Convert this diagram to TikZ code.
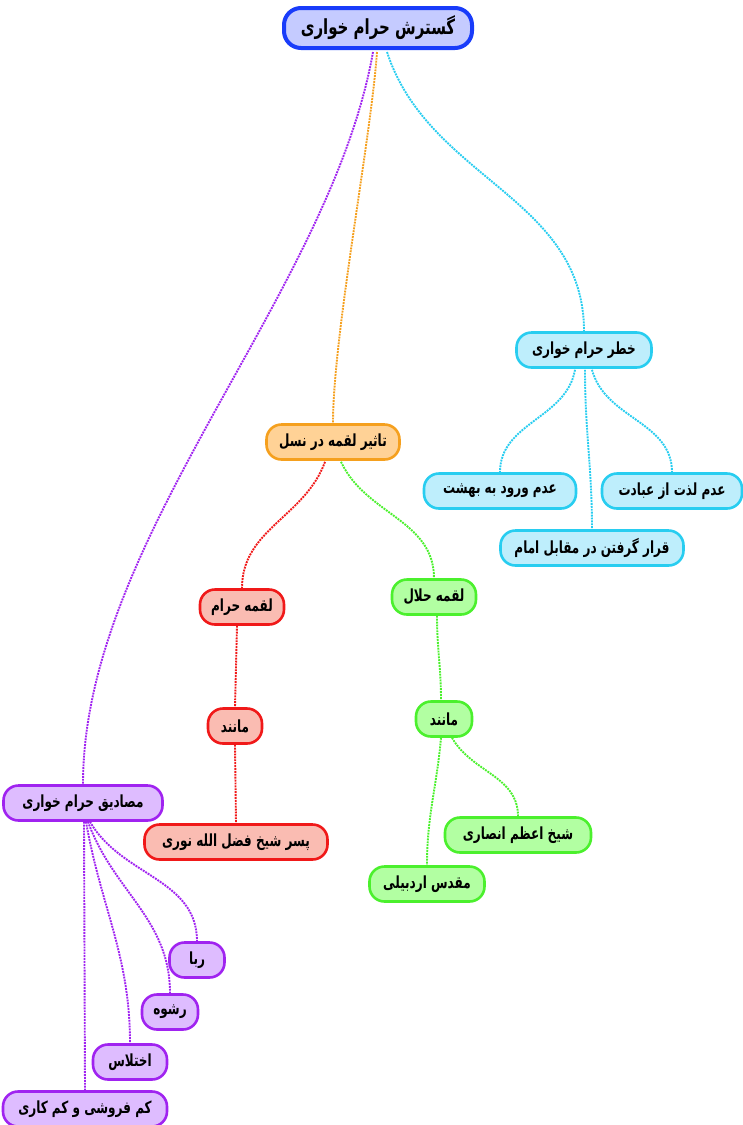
\documentclass[tikz,border=0pt]{standalone}
\usepackage{fontspec}
\TeXXeTstate=1
\newfontfamily\arabicfont[Script=Arabic, FakeStretch=0.72]{DejaVu Sans}
\usetikzlibrary{calc}
\definecolor{blueB}{RGB}{25,60,250}\definecolor{blueF}{RGB}{197,203,255}
\definecolor{cyanB}{RGB}{40,205,240}\definecolor{cyanF}{RGB}{190,238,252}
\definecolor{orB}{RGB}{245,160,30}\definecolor{orF}{RGB}{255,210,150}
\definecolor{redB}{RGB}{240,25,25}\definecolor{redF}{RGB}{250,188,178}
\definecolor{grB}{RGB}{75,240,45}\definecolor{grF}{RGB}{178,255,162}
\definecolor{puB}{RGB}{160,35,240}\definecolor{puF}{RGB}{222,188,255}
\tikzset{
  box/.style={rectangle, rounded corners=15pt, line width=2.6pt, minimum height=35pt, inner sep=2pt, font=\arabicfont\bfseries\fontsize{16.7}{18}\selectfont, text=black},
  rootbox/.style={box, draw=blueB, fill=blueF, line width=4pt, rounded corners=17pt, minimum height=40pt, font=\arabicfont\bfseries\fontsize{20.8}{22}\selectfont},
  cy/.style={box, draw=cyanB, fill=cyanF},
  orb/.style={box, draw=orB, fill=orF},
  rdb/.style={box, draw=redB, fill=redF},
  grb/.style={box, draw=grB, fill=grF},
  pub/.style={box, draw=puB, fill=puF},
  link/.style={densely dotted, line width=1.9pt},
}
\begin{document}
\begin{tikzpicture}[x=1pt,y=1pt]
\useasboundingbox (0,0) rectangle (743,-1125);
\node[rootbox, minimum width=188pt] (root) at (378,-28) {\beginR گسترش حرام خواری\endR};
\node[cy, minimum width=135pt] (khatar) at (584,-350) {\beginR خطر حرام خواری\endR};
\node[cy, minimum width=152pt] (vorud) at (500,-491) {\beginR عدم ورود به بهشت\endR};
\node[cy, minimum width=140pt] (lezat) at (672,-491) {\beginR عدم لذت از عبادت\endR};
\node[cy, minimum width=183pt] (gharar) at (592,-548) {\beginR قرار گرفتن در مقابل امام\endR};
\node[orb, minimum width=133pt] (tasir) at (333,-442) {\beginR تاثیر لقمه در نسل\endR};
\node[rdb, minimum width=84pt] (haram) at (242,-607) {\beginR لقمه حرام\endR};
\node[rdb, minimum width=54pt] (manR) at (235,-726) {\beginR مانند\endR};
\node[rdb, minimum width=183pt] (pesar) at (236,-842) {\beginR پسر شیخ فضل الله نوری\endR};
\node[grb, minimum width=84pt] (halal) at (434,-597) {\beginR لقمه حلال\endR};
\node[grb, minimum width=56pt] (manG) at (444,-719) {\beginR مانند\endR};
\node[grb, minimum width=146pt] (sheikh) at (518,-835) {\beginR شیخ اعظم انصاری\endR};
\node[grb, minimum width=115pt] (moghad) at (427,-884) {\beginR مقدس اردبیلی\endR};
\node[pub, minimum width=159pt] (masad) at (83,-803) {\beginR مصادیق حرام خواری\endR};
\node[pub, minimum width=55pt] (reba) at (197,-960) {\beginR ربا\endR};
\node[pub, minimum width=56pt] (reshve) at (170,-1012) {\beginR رشوه\endR};
\node[pub, minimum width=74pt] (ekht) at (130,-1062) {\beginR اختلاس\endR};
\node[pub, minimum width=164pt] (kam) at (85,-1109) {\beginR کم فروشی و کم کاری\endR};
% links from root
\draw[link, cyanB] ([xshift=9pt,yshift=-2pt]root.south) to[out=-72,in=90,looseness=1.0] (khatar.north);
\draw[link, orB] ([xshift=-1pt,yshift=-2pt]root.south) to[out=-94,in=90,looseness=0.6] (tasir.north);
\draw[link, puB] ([xshift=-5pt,yshift=-2pt]root.south) to[out=-100,in=90,looseness=0.8] (masad.north);
% khatar children
\draw[link, cyanB] ([xshift=-9pt,yshift=-1pt]khatar.south) to[out=-100,in=90] (vorud.north);
\draw[link, cyanB] ([xshift=8pt,yshift=-1pt]khatar.south) to[out=-75,in=90] (lezat.north);
\draw[link, cyanB] ([xshift=1pt,yshift=-1pt]khatar.south) to[out=-90,in=90] (gharar.north);
% tasir
\draw[link, redB] ([xshift=-8pt,yshift=-1pt]tasir.south) to[out=-110,in=90] (haram.north);
\draw[link, grB] ([xshift=8pt,yshift=-1pt]tasir.south) to[out=-65,in=90] (halal.north);
\draw[link, redB] ([xshift=-5pt]haram.south) -- (manR.north);
\draw[link, redB] (manR.south) -- (pesar.north);
\draw[link, grB] ([xshift=3pt]halal.south) to[out=-90,in=90] ([xshift=-3pt]manG.north);
\draw[link, grB] ([xshift=-3pt]manG.south) to[out=-95,in=90] (moghad.north);
\draw[link, grB] ([xshift=8pt]manG.south) to[out=-60,in=90] (sheikh.north);
% masadigh
\draw[link, puB] ([xshift=7pt]masad.south) to[out=-60,in=90] (reba.north);
\draw[link, puB] ([xshift=5pt]masad.south) to[out=-70,in=90] (reshve.north);
\draw[link, puB] ([xshift=3pt]masad.south) to[out=-80,in=90] (ekht.north);
\draw[link, puB] ([xshift=1pt]masad.south) -- (kam.north);
\end{tikzpicture}
\end{document}
